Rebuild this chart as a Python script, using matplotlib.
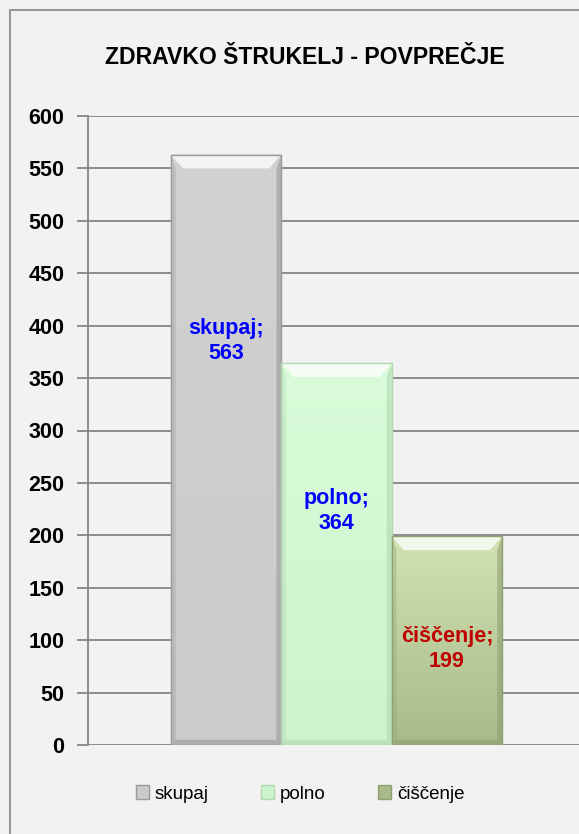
import numpy as np
import matplotlib.pyplot as plt
from matplotlib.colors import to_rgb
from matplotlib.patches import Rectangle, Polygon, Patch

plt.rcParams['font.family'] = ['Liberation Sans', 'DejaVu Sans']

# data ------------------------------------------------------------
series = ['skupaj', 'polno', 'čiščenje']
values = [563, 364, 199]
title = 'ZDRAVKO ŠTRUKELJ - POVPREČJE'
yticks = list(range(0, 601, 50))

# styles
top_cols = ['#d2d2d2', '#d9fbd9', '#d3e2b4']
bot_cols = ['#cbcbcb', '#cdf3cd', '#a7ba88']
edge_cols = ['#9a9a9a', '#b0d8b0', '#8fa070']
label_cols = ['#0000ff', '#0000ff', '#c00000']
label_y = [385, 223, 92]   # where Excel put the labels
bg = '#f2f2f2'

fig = plt.figure(figsize=(5.79, 8.34), dpi=100, facecolor=bg)
ax = fig.add_axes([88 / 579, 1 - 745 / 834, 1 - 88 / 579, (745 - 116) / 834])
ax.set_facecolor(bg)

x = np.arange(len(values))
w = 1.0
ax.set_xlim(-0.5 - 83 / 110.5, 2.5 + 77 / 110.5)
ax.set_ylim(0, 600)

for i, v in enumerate(values):
    x0 = x[i] - w / 2
    grad = np.linspace(0, 1, 100).reshape(-1, 1)
    c1 = np.array(to_rgb(top_cols[i]))
    c2 = np.array(to_rgb(bot_cols[i]))
    img = c1 + (c2 - c1) * grad[..., None]
    ax.imshow(img, extent=(x0, x0 + w, 0, v), origin='upper', aspect='auto', zorder=2)
    # bevel
    bx = 0.11
    by = 13
    ax.add_patch(Polygon([(x0, v), (x0 + w, v), (x0 + w - bx, v - by), (x0 + bx, v - by)],
                         closed=True, fc='white', alpha=0.75, lw=0, zorder=3))
    ax.add_patch(Polygon([(x0, v), (x0 + bx * 0.4, v - by), (x0 + bx * 0.4, 4), (x0, 0)],
                         closed=True, fc=edge_cols[i], alpha=0.35, lw=0, zorder=3))
    ax.add_patch(Polygon([(x0 + w, v), (x0 + w - bx * 0.4, v - by), (x0 + w - bx * 0.4, 4), (x0 + w, 0)],
                         closed=True, fc=edge_cols[i], alpha=0.6, lw=0, zorder=3))
    ax.add_patch(Polygon([(x0, 0), (x0 + w, 0), (x0 + w - bx * 0.4, 5), (x0 + bx * 0.4, 5)],
                         closed=True, fc=edge_cols[i], alpha=0.6, lw=0, zorder=3))
    ax.add_patch(Rectangle((x0, 0), w, v, fill=False, ec=edge_cols[i], lw=1, zorder=4))
    ax.text(x[i], label_y[i], f'{series[i]};\n{v}', ha='center', va='center',
            color=label_cols[i], fontsize=15.5, fontweight='bold', linespacing=1.25, zorder=5)

ax.set_yticks(yticks)
ax.set_yticklabels([str(t) for t in yticks], fontsize=15.5, fontweight='bold')
ax.set_xticks([])
ax.yaxis.grid(True, color='#858585', lw=1.3, zorder=0)
ax.set_axisbelow(True)
ax.tick_params(axis='y', length=8, width=1.3, color='#858585', pad=9)
for s in ['top', 'right', 'bottom']:
    ax.spines[s].set_visible(False)
ax.spines['left'].set_color('#858585')
ax.spines['left'].set_linewidth(1.3)

fig.text((105 + 505) / 2 / 579, 1 - 57 / 834, title, ha='center', va='center',
         fontsize=16.6, fontweight='bold')

handles = [Patch(fc=bot_cols[i], ec=edge_cols[i]) for i in range(3)]
fig.legend(handles, series, loc='center', bbox_to_anchor=(300 / 579, 1 - 794 / 834), ncol=3,
           frameon=False, fontsize=13.5,
           handlelength=0.7, handleheight=0.7, handletextpad=0.3, columnspacing=2.8)

fig.add_artist(Rectangle((10 / 579, -0.1), 1.2, 1.1 - 10 / 834, transform=fig.transFigure,
                         fill=False, ec='#999999', lw=1.5))

fig.savefig('out.png', dpi=100, facecolor=bg)
